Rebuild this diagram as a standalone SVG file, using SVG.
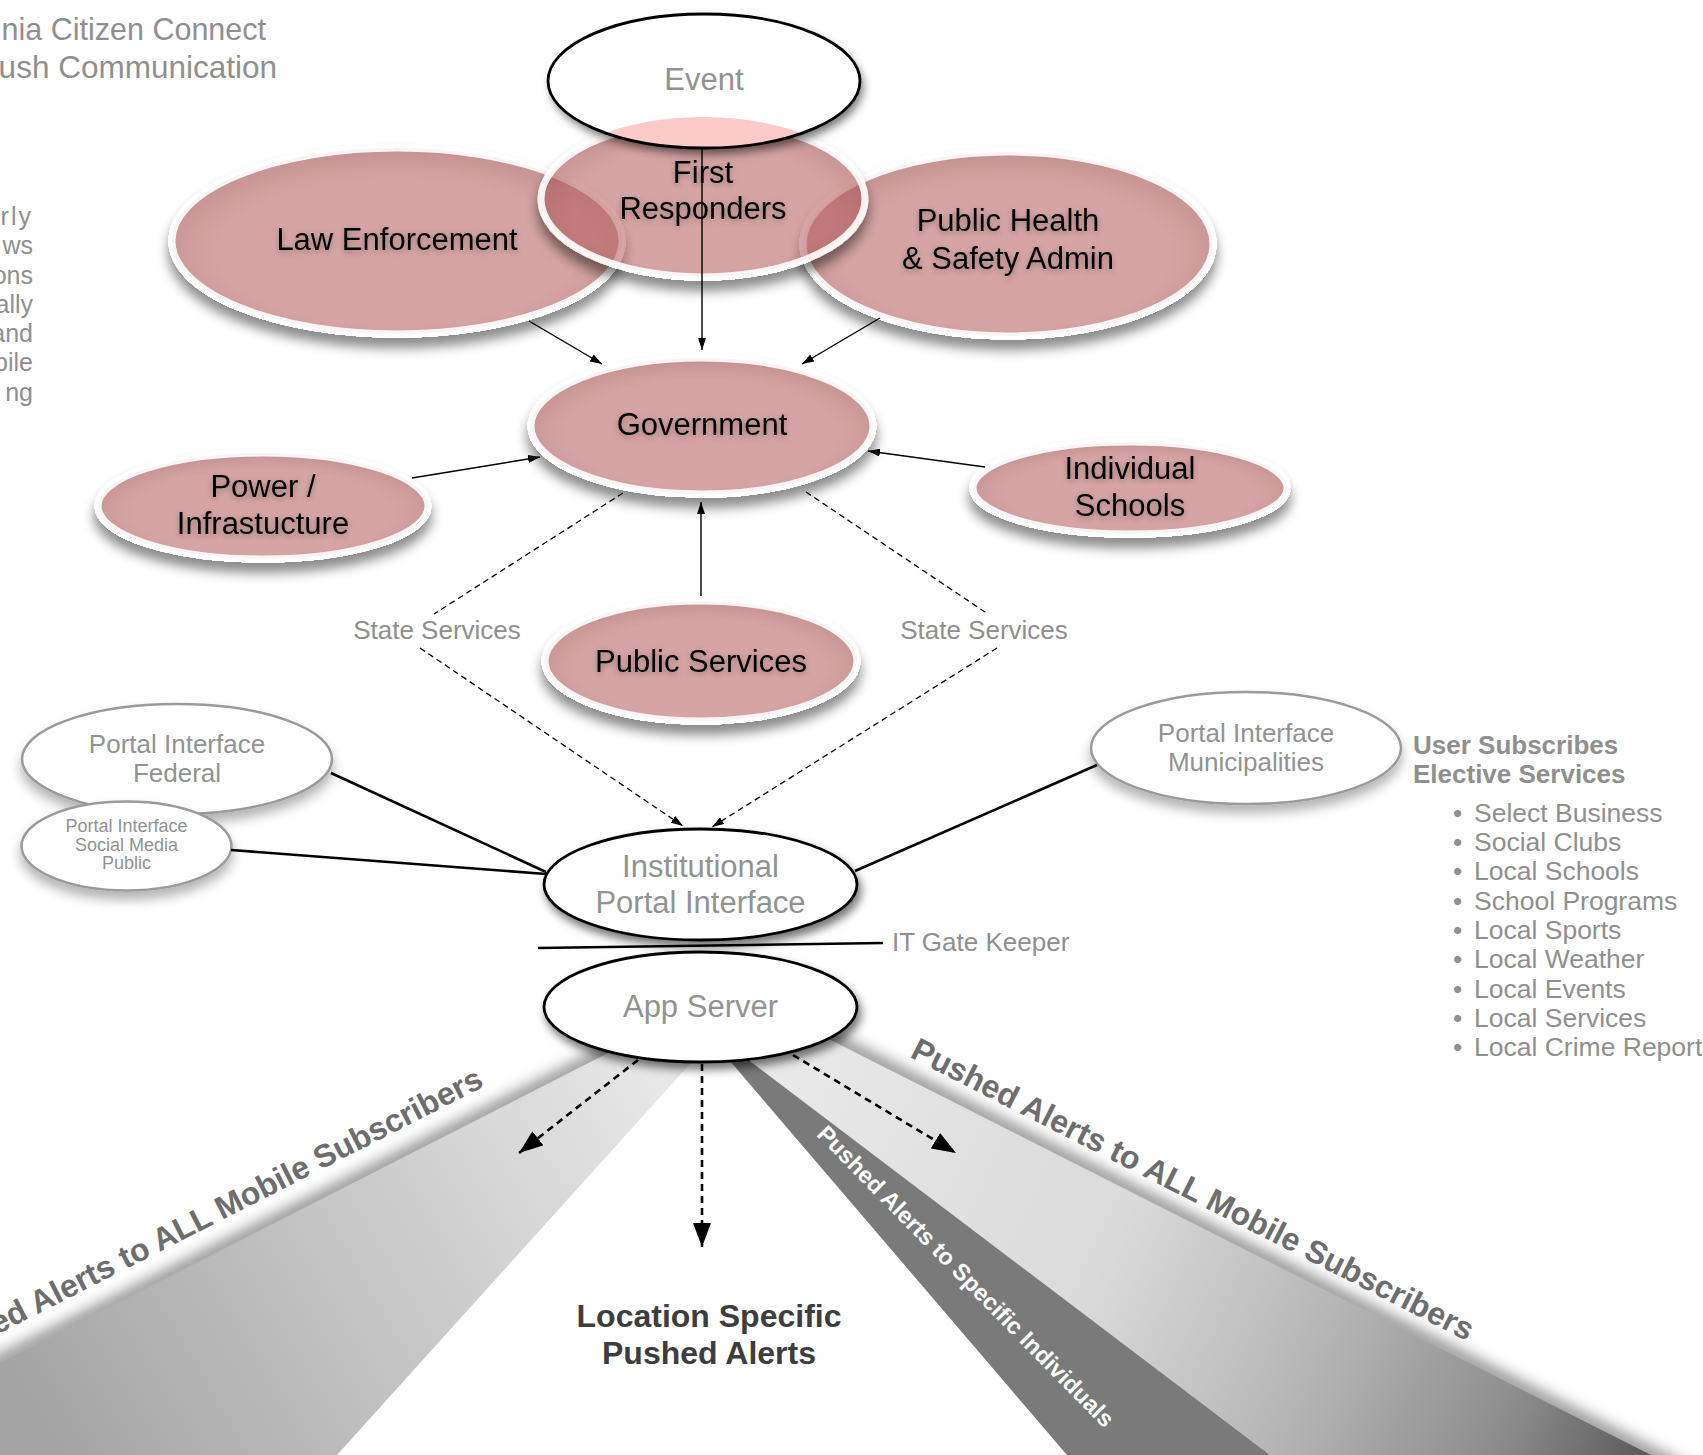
<svg xmlns="http://www.w3.org/2000/svg" width="1703" height="1455" viewBox="0 0 1703 1455">
<defs>
<style>
text{font-family:"Liberation Sans",Arial,sans-serif}
.pk{fill:url(#pinkG);stroke:#fff;stroke-width:7;stroke-opacity:.9}
.wn{fill:#fff;stroke:#000;stroke-width:2.8}
.pn{fill:#fff;stroke:#9a9a9a;stroke-width:2.5}
.nt{font-size:31px;fill:#000;text-anchor:middle}
.gn{font-size:31px;fill:#929292;text-anchor:middle}
.pt{font-size:26px;fill:#929292;text-anchor:middle}
.ps{font-size:18px;fill:#929292;text-anchor:middle}
.gt{fill:#8f8f8f}
.c1{stroke:#000;stroke-width:1.4;fill:none}
.c2{stroke:#000;stroke-width:2.6;fill:none}
.d1{stroke:#000;stroke-width:1.3;fill:none;stroke-dasharray:6 4}
.d2{stroke:#000;stroke-width:2.6;fill:none;stroke-dasharray:7 5}
.li{font-size:26.5px;fill:#8f8f8f}
.lc{font-size:25px;fill:#8f8f8f;text-anchor:end}
.bt{font-weight:bold}
</style>
<radialGradient id="pinkG" cx="0.5" cy="0.56" r="0.55">
<stop offset="0" stop-color="#b86262" stop-opacity=".58"/>
<stop offset=".72" stop-color="#b86262" stop-opacity=".58"/>
<stop offset="1" stop-color="#a24f4f" stop-opacity=".62"/>
</radialGradient>
<linearGradient id="lbG" gradientUnits="userSpaceOnUse" x1="660" y1="1070" x2="40" y2="1440">
<stop offset="0" stop-color="#e8e8e8"/>
<stop offset="1" stop-color="#a3a3a3"/>
</linearGradient>
<linearGradient id="rbG" gradientUnits="userSpaceOnUse" x1="780" y1="1040" x2="1650" y2="1455">
<stop offset="0" stop-color="#e9e9e9"/>
<stop offset=".4" stop-color="#dadada"/>
<stop offset=".65" stop-color="#b4b4b4"/>
<stop offset=".85" stop-color="#8d8d8d"/>
<stop offset="1" stop-color="#5a5a5a"/>
</linearGradient>
<filter id="psh" x="-15%" y="-20%" width="130%" height="165%" color-interpolation-filters="sRGB">
<feComponentTransfer in="SourceAlpha" result="solid"><feFuncA type="linear" slope="20"/></feComponentTransfer>
<feGaussianBlur in="solid" stdDeviation="6"/>
<feOffset dy="10" result="off"/>
<feComposite in="off" in2="solid" operator="out" result="outS"/>
<feFlood flood-color="#000" flood-opacity=".45"/>
<feComposite in2="outS" operator="in" result="sh"/>
<feMerge><feMergeNode in="sh"/><feMergeNode in="SourceGraphic"/></feMerge>
</filter>
<filter id="wsh" x="-15%" y="-25%" width="135%" height="170%"><feDropShadow dx="3" dy="6" stdDeviation="5" flood-color="#000" flood-opacity=".55"/></filter>
<filter id="gsh" x="-15%" y="-25%" width="135%" height="170%"><feDropShadow dx="0" dy="8" stdDeviation="6" flood-color="#000" flood-opacity=".3"/></filter>
<filter id="tgl" x="-10%" y="-40%" width="120%" height="180%">
<feGaussianBlur in="SourceAlpha" stdDeviation="3"/>
<feOffset dy="2" result="o"/>
<feComponentTransfer in="o" result="s"><feFuncA type="linear" slope=".3"/></feComponentTransfer>
<feMerge><feMergeNode in="s"/><feMergeNode in="SourceGraphic"/></feMerge>
</filter>
<filter id="bl" filterUnits="userSpaceOnUse" x="-60" y="900" width="1820" height="620"><feGaussianBlur stdDeviation="8"/></filter>
<clipPath id="evClip"><ellipse cx="704" cy="81" rx="156" ry="67"/></clipPath>
<marker id="ah" viewBox="0 0 12 8" refX="12" refY="4" markerWidth="12" markerHeight="8" markerUnits="userSpaceOnUse" orient="auto"><path d="M0,0 L12,4 L0,8 z" fill="#000"/></marker>
<marker id="ahB" viewBox="0 0 24 18" refX="24" refY="9" markerWidth="24" markerHeight="18" markerUnits="userSpaceOnUse" orient="auto"><path d="M0,0 L24,9 L0,18 z" fill="#000"/></marker>
</defs>
<rect width="1703" height="1455" fill="#fff"/>

<g id="beams">
<line x1="640" y1="1037" x2="-20" y2="1373" stroke="#6a6a6a" stroke-width="12" filter="url(#bl)"/>
<line x1="740" y1="994" x2="1720" y2="1490" stroke="#6a6a6a" stroke-width="12" filter="url(#bl)"/>
<polygon points="620,1047 698,1055 337,1455 0,1455 0,1363" fill="url(#lbG)"/>
<polygon points="720,984 1651,1455 1270,1455 735,1050" fill="url(#rbG)"/>
<polygon points="712,1040 722,1040 1270,1455 1067,1455" fill="#7a7a7a"/>
<text x="485" y="1086" transform="rotate(-27 485 1086)" font-size="32" font-weight="bold" fill="#6d6d6d" text-anchor="end">Pushed Alerts to ALL Mobile Subscribers</text>
<text x="1188" y="1199" transform="rotate(27 1188 1199)" font-size="32" font-weight="bold" fill="#6d6d6d" text-anchor="middle">Pushed Alerts to ALL Mobile Subscribers</text>
<text x="960" y="1282" transform="rotate(45.5 960 1282)" font-size="23.5" font-weight="bold" fill="#fff" text-anchor="middle">Pushed Alerts to Specific Individuals</text>
<text x="709" y="1327" font-size="32" font-weight="bold" fill="#3d3d3d" text-anchor="middle">Location Specific</text>
<text x="709" y="1364" font-size="32" font-weight="bold" fill="#3d3d3d" text-anchor="middle">Pushed Alerts</text>
</g>

<g id="title">
<text x="266" y="40" font-size="30.5" class="gt" text-anchor="end">nia Citizen Connect</text>
<text x="277" y="78" font-size="31.5" class="gt" text-anchor="end">ush Communication</text>
<text x="33" y="225" class="lc" letter-spacing="2">rly</text>
<text x="33" y="254" class="lc">ws</text>
<text x="33" y="284" class="lc">ons</text>
<text x="33" y="313" class="lc">ally</text>
<text x="33" y="342" class="lc">and</text>
<text x="33" y="371" class="lc">bile</text>
<text x="33" y="401" class="lc">ng</text>
</g>

<g id="law-enforcement">
<ellipse class="pk" cx="397" cy="241" rx="225" ry="93" filter="url(#psh)"/>
<text class="nt" x="397" y="250" font-size="31.5" filter="url(#tgl)">Law Enforcement</text>
</g>
<g id="public-health">
<ellipse class="pk" cx="1008" cy="244" rx="205" ry="92" filter="url(#psh)"/>
<text class="nt" x="1008" y="231" filter="url(#tgl)">Public Health</text>
<text class="nt" x="1008" y="269" filter="url(#tgl)">&amp; Safety Admin</text>
</g>
<g id="first-responders">
<ellipse class="pk" cx="703" cy="199" rx="162" ry="78" filter="url(#psh)"/>
<text class="nt" x="703" y="183" filter="url(#tgl)">First</text>
<text class="nt" x="703" y="219" filter="url(#tgl)">Responders</text>
</g>
<g id="event">
<ellipse cx="704" cy="81" rx="156" ry="67" fill="#fff" filter="url(#wsh)"/>
<ellipse cx="703" cy="199" rx="165" ry="82" fill="#fdcaca" clip-path="url(#evClip)"/>
<ellipse cx="704" cy="81" rx="156" ry="67" fill="none" stroke="#000" stroke-width="2.8"/>
<text class="gn" x="704" y="90">Event</text>
</g>
<g id="government">
<ellipse class="pk" cx="702" cy="426" rx="171" ry="68" filter="url(#psh)"/>
<text class="nt" x="702" y="435" filter="url(#tgl)">Government</text>
</g>
<g id="power-infrastructure">
<ellipse class="pk" cx="263" cy="506" rx="165" ry="53" filter="url(#psh)"/>
<text class="nt" x="263" y="497" filter="url(#tgl)">Power /</text>
<text class="nt" x="263" y="534" filter="url(#tgl)">Infrastucture</text>
</g>
<g id="individual-schools">
<ellipse class="pk" cx="1130" cy="488" rx="157" ry="46" filter="url(#psh)"/>
<text class="nt" x="1130" y="479" filter="url(#tgl)">Individual</text>
<text class="nt" x="1130" y="516" filter="url(#tgl)">Schools</text>
</g>
<g id="public-services">
<ellipse class="pk" cx="701" cy="661" rx="156" ry="60" filter="url(#psh)"/>
<text class="nt" x="701" y="672" filter="url(#tgl)">Public Services</text>
</g>
<g id="portal-federal">
<ellipse class="pn" cx="177" cy="759" rx="155" ry="55" filter="url(#gsh)"/>
<text class="pt" x="177" y="753">Portal Interface</text>
<text class="pt" x="177" y="782">Federal</text>
</g>
<g id="portal-social">
<ellipse class="pn" cx="126.5" cy="846" rx="105" ry="44.5" filter="url(#gsh)"/>
<text class="ps" x="126.5" y="832">Portal Interface</text>
<text class="ps" x="126.5" y="851">Social Media</text>
<text class="ps" x="126.5" y="869">Public</text>
</g>
<g id="portal-municipalities">
<ellipse class="pn" cx="1246" cy="748" rx="155" ry="56" filter="url(#gsh)"/>
<text class="pt" x="1246" y="742">Portal Interface</text>
<text class="pt" x="1246" y="771">Municipalities</text>
</g>
<g id="institutional">
<ellipse class="wn" cx="700.5" cy="884.5" rx="156.5" ry="55.5" filter="url(#wsh)"/>
<text class="gn" x="700.5" y="877">Institutional</text>
<text class="gn" x="700.5" y="913">Portal Interface</text>
</g>
<g id="app-server">
<ellipse class="wn" cx="700.5" cy="1007" rx="156.5" ry="55" filter="url(#wsh)"/>
<text class="gn" x="700.5" y="1017">App Server</text>
</g>

<g id="connectors">
<line class="c1" x1="529" y1="321" x2="602" y2="364" marker-end="url(#ah)"/>
<line class="c1" x1="702" y1="148" x2="702" y2="350" marker-end="url(#ah)"/>
<line class="c1" x1="880" y1="318" x2="802" y2="364" marker-end="url(#ah)"/>
<line class="c1" x1="412" y1="478" x2="540" y2="457" marker-end="url(#ah)"/>
<line class="c1" x1="985" y1="467" x2="868" y2="451" marker-end="url(#ah)"/>
<line class="c1" x1="701" y1="596" x2="701" y2="502" marker-end="url(#ah)"/>
<line class="d1" x1="623" y1="493" x2="434" y2="614"/>
<line class="d1" x1="420" y1="648" x2="683" y2="826" marker-end="url(#ah)"/>
<line class="d1" x1="806" y1="492" x2="988" y2="614"/>
<line class="d1" x1="997" y1="648" x2="712" y2="827" marker-end="url(#ah)"/>
<text x="437" y="639" font-size="26" class="gt" text-anchor="middle">State Services</text>
<text x="984" y="639" font-size="26" class="gt" text-anchor="middle">State Services</text>
<line class="c2" x1="331" y1="773" x2="546" y2="872"/>
<line class="c2" x1="231" y1="850" x2="546" y2="874"/>
<line class="c2" x1="1097" y1="765" x2="855" y2="871"/>
<line class="c2" x1="538" y1="948" x2="883" y2="943"/>
<text x="892" y="951" font-size="26" class="gt">IT Gate Keeper</text>
<line class="d2" x1="638" y1="1060" x2="519" y2="1153" marker-end="url(#ahB)"/>
<line class="d2" x1="702" y1="1064" x2="702" y2="1247" marker-end="url(#ahB)"/>
<line class="d2" x1="793" y1="1055" x2="956" y2="1153" marker-end="url(#ahB)"/>
</g>

<g id="subscriptions">
<text x="1413" y="754" font-size="26" class="gt bt">User Subscribes</text>
<text x="1413" y="783" font-size="26" class="gt bt">Elective Services</text>
<text class="li" x="1453" y="822">•<tspan x="1474">Select Business</tspan></text>
<text class="li" x="1453" y="851">•<tspan x="1474">Social Clubs</tspan></text>
<text class="li" x="1453" y="880">•<tspan x="1474">Local Schools</tspan></text>
<text class="li" x="1453" y="910">•<tspan x="1474">School Programs</tspan></text>
<text class="li" x="1453" y="939">•<tspan x="1474">Local Sports</tspan></text>
<text class="li" x="1453" y="968">•<tspan x="1474">Local Weather</tspan></text>
<text class="li" x="1453" y="998">•<tspan x="1474">Local Events</tspan></text>
<text class="li" x="1453" y="1027">•<tspan x="1474">Local Services</tspan></text>
<text class="li" x="1453" y="1056">•<tspan x="1474">Local Crime Report</tspan></text>
</g>
</svg>
